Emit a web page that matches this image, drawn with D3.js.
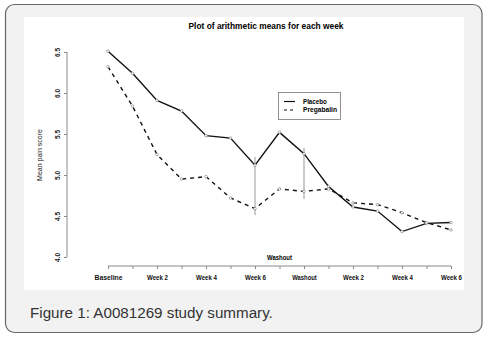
<!DOCTYPE html>
<html lang="en">
<head>
<meta charset="utf-8">
<title>Plot of arithmetic means for each week</title>
<script src="https://cdn.jsdelivr.net/npm/d3@7"></script>
<style>
  body { margin: 0; background: #fff; }
  svg { display: block; }
</style>
</head>
<body>
<script>
// data
var weeks = [0, 1, 2, 3, 4, 5, 6, 7, 8, 9, 10, 11, 12, 13, 14];
var tickLabels = ["Baseline", "", "Week 2", "", "Week 4", "", "Week 6", "", "Washout", "", "Week 2", "", "Week 4", "", "Week 6"];
var placebo    = [6.51, 6.24, 5.91, 5.78, 5.48, 5.45, 5.12, 5.52, 5.26, 4.86, 4.61, 4.56, 4.31, 4.41, 4.42];
var pregabalin = [6.32, 5.84, 5.25, 4.95, 4.98, 4.72, 4.59, 4.83, 4.80, 4.83, 4.66, 4.64, 4.54, 4.42, 4.33];
var yTicks = [4.0, 4.5, 5.0, 5.5, 6.0, 6.5];
// grey vertical bars at week 6 and washout
var bars = [{ x: 6, lo: 4.51, hi: 5.22 }, { x: 8, lo: 4.71, hi: 5.33 }];

var W = 487, H = 339;
var svg = d3.select("body").append("svg").attr("width", W).attr("height", H);

// card + white figure area
svg.append("rect").attr("x", 5.5).attr("y", 4.5).attr("width", 476.5).attr("height", 328)
   .attr("rx", 9).attr("fill", "#f2f2f2").attr("stroke", "#666").attr("stroke-width", 1.2);
svg.append("rect").attr("x", 24).attr("y", 17).attr("width", 440).attr("height", 273).attr("fill", "#fff");

svg.append("text").attr("x", 30).attr("y", 318)
   .attr("font-family", "Liberation Sans, Arial, sans-serif").attr("font-size", "15.2px")
   .attr("fill", "#333").text("Figure 1: A0081269 study summary.");

var x = d3.scaleLinear().domain([0, 14]).range([108, 451]);
var y = d3.scaleLinear().domain([4, 6.5]).range([257, 52]);

var font = "Liberation Sans, Arial, sans-serif";

// title
svg.append("text").attr("x", 266).attr("y", 29).attr("text-anchor", "middle")
   .attr("font-family", font).attr("font-size", "8.5px").attr("font-weight", "bold")
   .attr("textLength", 155).attr("lengthAdjust", "spacingAndGlyphs")
   .text("Plot of arithmetic means for each week");

// y axis
var gy = svg.append("g").attr("transform", "translate(67,0)")
   .call(d3.axisLeft(y).tickValues(yTicks).tickSize(3).tickFormat(d3.format(".1f")));
gy.select(".domain").attr("stroke", "#888").attr("d", "M0," + y(4) + "V" + y(6.5));
gy.selectAll(".tick line").attr("stroke", "#888");
gy.selectAll(".tick text")
   .attr("font-family", font).attr("font-size", "6.5px").attr("font-weight", "bold").attr("fill", "#222")
   .attr("x", null).attr("text-anchor", "middle")
   .attr("transform", "translate(-9,0) rotate(-90)")
   .attr("y", 0).attr("dy", "0.35em");

svg.append("text").attr("transform", "translate(42,155) rotate(-90)").attr("text-anchor", "middle")
   .attr("font-family", font).attr("font-size", "7px").attr("fill", "#222")
   .text("Mean pain score");

// x axis
var gx = svg.append("g").attr("transform", "translate(0,266)")
   .call(d3.axisBottom(x).tickValues(weeks).tickSize(3).tickFormat(function(d) { return tickLabels[d]; }));
gx.select(".domain").attr("stroke", "#888").attr("d", "M" + x(0) + ",0H" + x(14));
gx.selectAll(".tick line").attr("stroke", "#888");
gx.selectAll(".tick text").attr("font-family", font).attr("font-size", "7px").attr("font-weight", "bold")
   .attr("fill", "#111").attr("y", 12).attr("dy", "0.35em")
   .attr("textLength", function(d) { return tickLabels[d] ? tickLabels[d].length * 3.5 : null; })
   .attr("lengthAdjust", "spacingAndGlyphs");

svg.append("text").attr("x", x(7)).attr("y", 260).attr("text-anchor", "middle")
   .attr("font-family", font).attr("font-size", "7px").attr("font-weight", "bold")
   .attr("textLength", 25).attr("lengthAdjust", "spacingAndGlyphs").text("Washout");

// grey bars
svg.selectAll("line.bar").data(bars).enter().append("line").attr("class", "bar")
   .attr("x1", function(d) { return x(d.x); }).attr("x2", function(d) { return x(d.x); })
   .attr("y1", function(d) { return y(d.hi); }).attr("y2", function(d) { return y(d.lo); })
   .attr("stroke", "#999").attr("stroke-width", 1);

var line = d3.line().x(function(d, i) { return x(weeks[i]); }).y(function(d) { return y(d); });

svg.append("path").datum(pregabalin).attr("d", line).attr("fill", "none")
   .attr("stroke", "#111").attr("stroke-width", 1.4).attr("stroke-dasharray", "4,4");
svg.append("path").datum(placebo).attr("d", line).attr("fill", "none")
   .attr("stroke", "#111").attr("stroke-width", 1.4);

[placebo, pregabalin].forEach(function(series) {
  svg.append("g").selectAll("circle").data(series).enter().append("circle")
     .attr("cx", function(d, i) { return x(weeks[i]); }).attr("cy", function(d) { return y(d); })
     .attr("r", 1.3).attr("fill", "#fff").attr("stroke", "#777").attr("stroke-width", 0.6);
});

// legend
var lg = svg.append("g").attr("transform", "translate(278,92)");
lg.append("rect").attr("x", 0.5).attr("y", 0.5).attr("width", 62).attr("height", 27)
  .attr("fill", "#fff").attr("stroke", "#777").attr("stroke-width", 0.8);
[["Placebo", null], ["Pregabalin", "3,3"]].forEach(function(item, i) {
  var yy = 9.5 + i * 8.5;
  lg.append("line").attr("x1", 6).attr("x2", 17).attr("y1", yy).attr("y2", yy)
    .attr("stroke", "#111").attr("stroke-width", 1.2).attr("stroke-dasharray", item[1]);
  lg.append("text").attr("x", 25).attr("y", yy).attr("dy", "0.35em")
    .attr("font-family", font).attr("font-size", "7px").attr("font-weight", "bold")
    .attr("textLength", item[0].length * 3.4).attr("lengthAdjust", "spacingAndGlyphs")
    .text(item[0]);
});
</script>
</body>
</html>
